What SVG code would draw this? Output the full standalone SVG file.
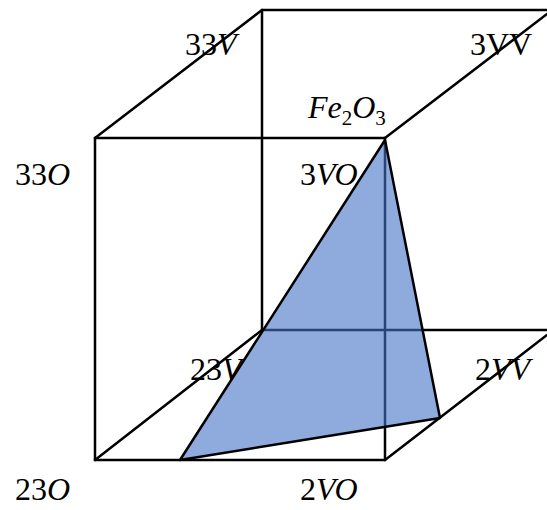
<svg xmlns="http://www.w3.org/2000/svg" width="547" height="510" viewBox="0 0 547 510">
<style>
.l{stroke:#000;stroke-width:2.5;fill:none;stroke-linecap:round}
.t{font-family:"Liberation Serif","DejaVu Serif",serif;font-size:32px;fill:#000}
.i{font-style:italic}
.s{font-size:21px}
</style>
<rect width="547" height="510" fill="#fff"/>
<g id="connectors">
<line class="l" x1="95" y1="138" x2="385" y2="138"/>
<line class="l" x1="95" y1="460" x2="385" y2="460"/>
<line class="l" x1="95" y1="138" x2="95" y2="460"/>
<line class="l" x1="385" y1="138" x2="385" y2="460"/>
<line class="l" x1="262" y1="10" x2="547" y2="10"/>
<line class="l" x1="262" y1="330" x2="547" y2="330"/>
<line class="l" x1="262" y1="10" x2="262" y2="330"/>
<line class="l" x1="95" y1="138" x2="262" y2="10"/>
<line class="l" x1="385" y1="138" x2="547" y2="14"/>
<line class="l" x1="95" y1="460" x2="262" y2="330"/>
<line class="l" x1="385" y1="460" x2="547" y2="335"/>
</g>
<g id="triangle">
<polygon points="385,140 180,460 440,418" fill="#4472c4" fill-opacity="0.6" stroke="#000" stroke-width="2.5" stroke-linejoin="round"/>
</g>
<g id="labels">
<text class="t" x="185" y="55">33<tspan class="i">V</tspan></text>
<text class="t" x="470" y="55">3VV</text>
<text class="t" x="308" y="118"><tspan class="i">Fe</tspan><tspan class="s" dy="7">2</tspan><tspan class="i" dy="-7">O</tspan><tspan class="s" dy="7">3</tspan></text>
<text class="t" x="15" y="185">33<tspan class="i">O</tspan></text>
<text class="t" x="300" y="185">3<tspan class="i">VO</tspan></text>
<text class="t" x="190" y="380">23<tspan class="i">V</tspan></text>
<text class="t" x="475" y="380">2<tspan class="i">VV</tspan></text>
<text class="t" x="15" y="500">23<tspan class="i">O</tspan></text>
<text class="t" x="300" y="500">2<tspan class="i">VO</tspan></text>
</g>
</svg>
